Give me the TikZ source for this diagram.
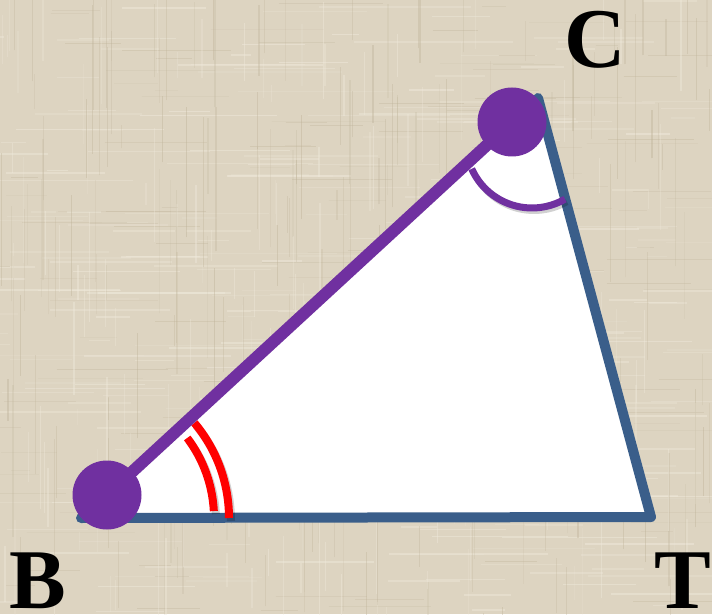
\documentclass[tikz,border=0pt]{standalone}
\usepackage{fontspec}
\setmainfont{Liberation Serif}
\usetikzlibrary{calc}
\definecolor{bg}{RGB}{221,212,193}
\definecolor{bglight}{RGB}{240,234,220}
\definecolor{bgdark}{RGB}{190,178,152}
\definecolor{edgeblue}{RGB}{58,94,138}
\definecolor{ppurple}{RGB}{112,48,160}
\begin{document}
\begin{tikzpicture}[x=1pt,y=1pt,
  edge/.style={draw=edgeblue, line width=10, line cap=round, line join=round},
  seg/.style={draw=ppurple, line width=12},
  dot/.style={circle, fill=ppurple, minimum size=69, inner sep=0},
  redarc/.style={draw=red, line width=8},
  purparc/.style={draw=ppurple, line width=7},
  shade/.style={draw=black, opacity=0.18, line width=8},
  lab/.style={font=\fontsize{85}{85}\selectfont\bfseries, anchor=base, inner sep=0}]
\useasboundingbox (0,0) rectangle (712,614);
\fill[bg] (0,0) rectangle (712,614);
\begin{scope}
\clip (0,0) rectangle (712,614);
\pgfmathsetseed{7}
\foreach \i in {1,...,260} {
  \pgfmathsetmacro\yy{rnd*614}
  \pgfmathsetmacro\xa{rnd*712-40}
  \pgfmathsetmacro\len{20+rnd*140}
  \pgfmathsetmacro\op{0.15+rnd*0.35}
  \draw[bglight, opacity=\op, line width=1.5] (\xa,\yy) -- ++(\len,0);
}
\foreach \i in {1,...,200} {
  \pgfmathsetmacro\xx{rnd*712}
  \pgfmathsetmacro\ya{rnd*614-40}
  \pgfmathsetmacro\len{20+rnd*140}
  \pgfmathsetmacro\op{0.12+rnd*0.3}
  \draw[bgdark, opacity=\op, line width=1.2] (\xx,\ya) -- ++(0,\len);
}
\foreach \i in {1,...,160} {
  \pgfmathsetmacro\yy{rnd*614}
  \pgfmathsetmacro\xa{rnd*712-40}
  \pgfmathsetmacro\len{15+rnd*100}
  \pgfmathsetmacro\op{0.1+rnd*0.25}
  \draw[bgdark, opacity=\op, line width=1] (\xa,\yy) -- ++(\len,0);
}
\foreach \i in {1,...,160} {
  \pgfmathsetmacro\xx{rnd*712}
  \pgfmathsetmacro\ya{rnd*614-40}
  \pgfmathsetmacro\len{15+rnd*100}
  \pgfmathsetmacro\op{0.15+rnd*0.3}
  \draw[bglight, opacity=\op, line width=1.3] (\xx,\ya) -- ++(0,\len);
}
\end{scope}
% triangle
\coordinate (B0) at (81,96);
\coordinate (T0) at (651,97);
\coordinate (C0) at (538,516);
\coordinate (Cc) at (532,472);
\coordinate (Bs) at (83,93);
\coordinate (Cs) at (534,469);
\fill[white] (B0) -- (T0) -- (C0) -- cycle;
\draw[edge] (B0) -- (T0) -- (C0);
% angle marks with soft shadow
\draw[shade] ([shift={(0:148)}]Bs) arc[start angle=0, end angle=40, radius=148];
\draw[shade] ([shift={(3:133)}]Bs) arc[start angle=3, end angle=37, radius=133];
\draw[redarc] ([shift={(0:148)}]B0) arc[start angle=0, end angle=40, radius=148];
\draw[redarc] ([shift={(3:133)}]B0) arc[start angle=3, end angle=37, radius=133];
\draw[shade, line width=6] ([shift={(204:66)}]Cs) arc[start angle=204, end angle=300, radius=66];
\draw[purparc] ([shift={(204:66)}]Cc) arc[start angle=204, end angle=300, radius=66];
% purple segment and dots
\node[dot] (Bd) at (107,119) {};
\node[dot] (Cd) at (512,492) {};
\draw[seg] (Bd.center) -- (Cd.center);
% labels
\node[lab] (lB) at (37.5,6) {B};
\node[lab] (lC) at (595,546) {C};
\node[lab] (lT) at (683,6) {T};
\end{tikzpicture}
\end{document}
